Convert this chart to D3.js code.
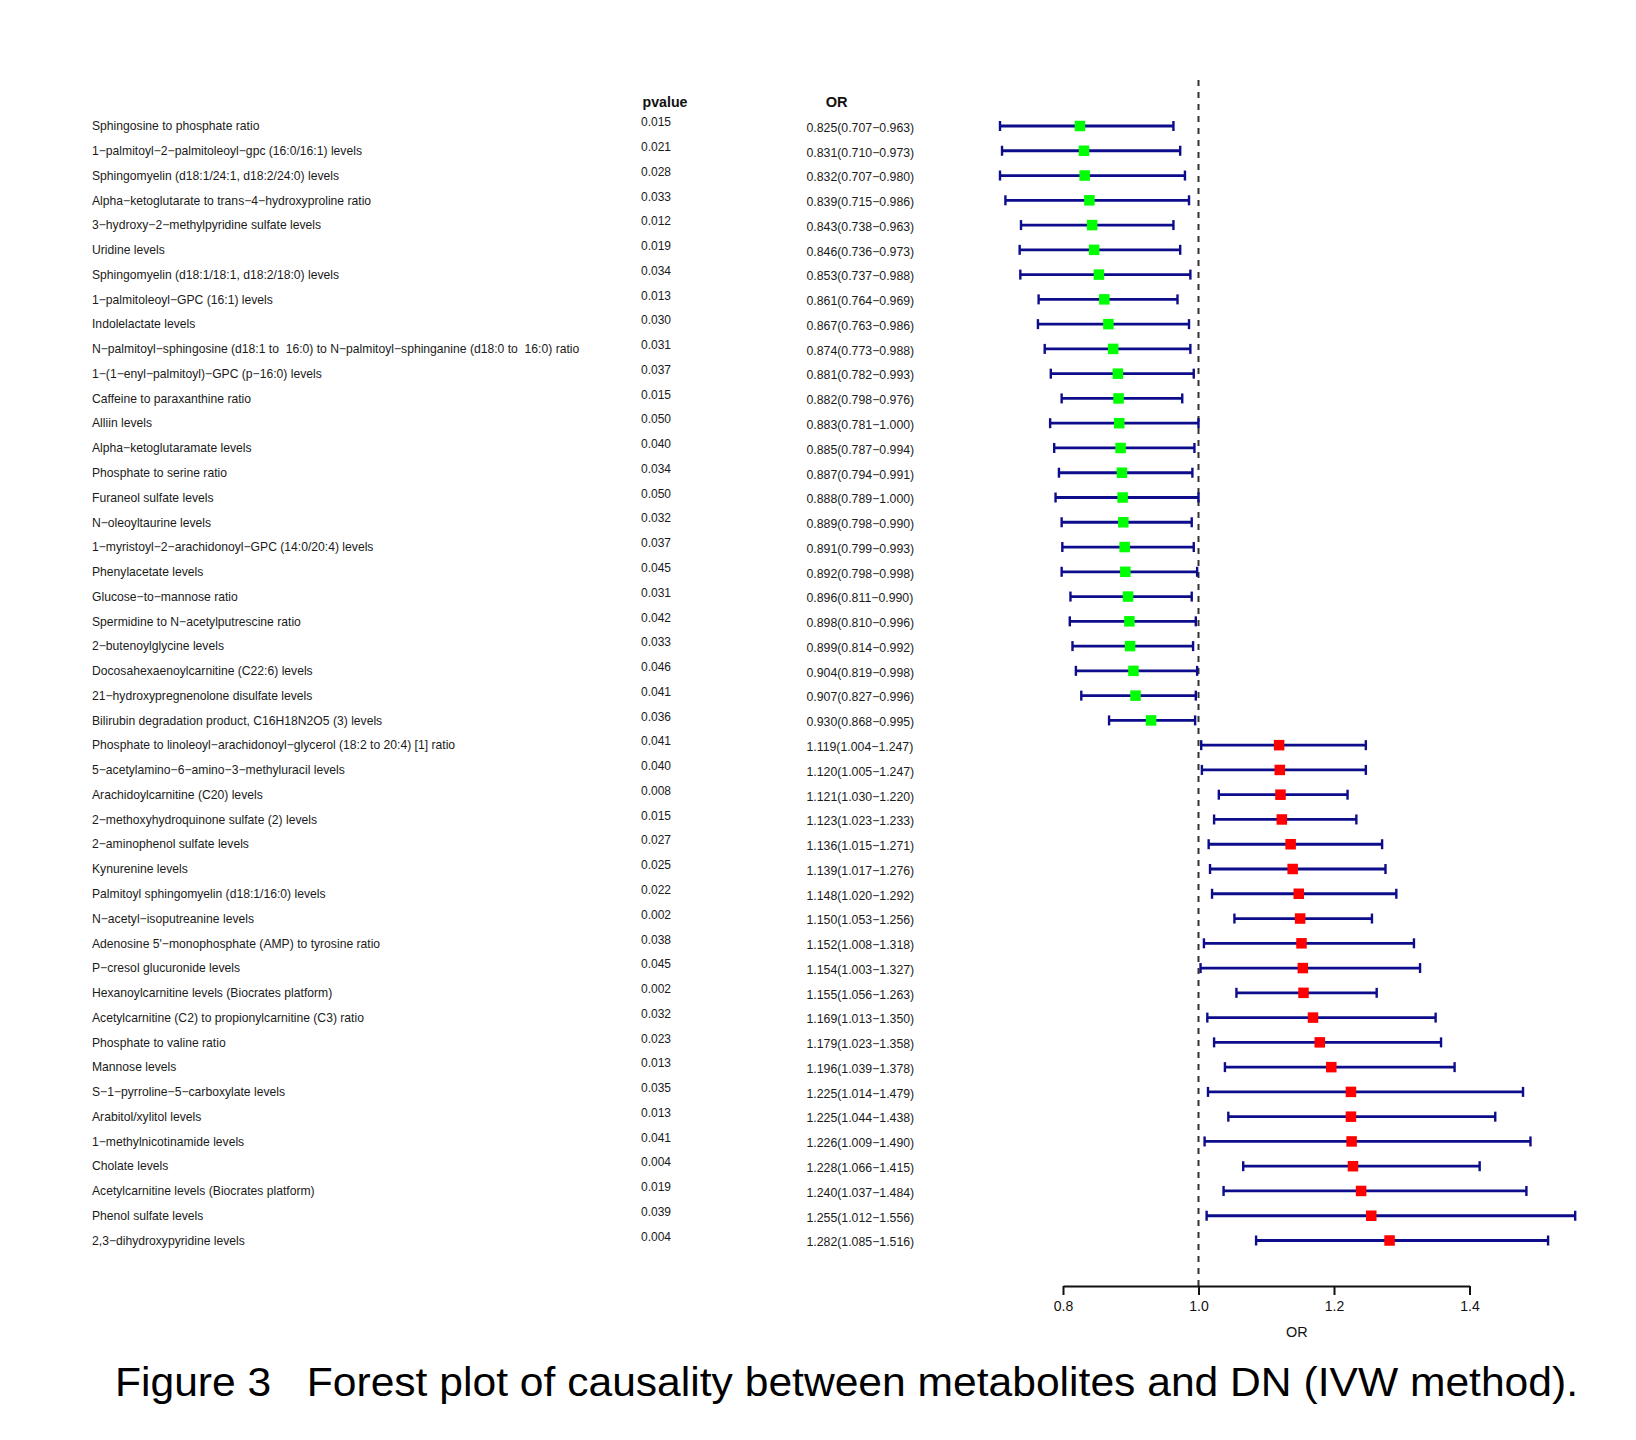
<!DOCTYPE html>
<html>
<head>
<meta charset="utf-8">
<script src="https://cdn.jsdelivr.net/npm/d3@7"></script>
<style>
  html, body { margin: 0; padding: 0; background: #fff; }
  svg { display: block; }
  text { font-family: "Liberation Sans", Arial, sans-serif; }
</style>
</head>
<body>
<div id="chart"></div>
<script>
const labels = [
  "Sphingosine to phosphate ratio",
  "1−palmitoyl−2−palmitoleoyl−gpc (16:0/16:1) levels",
  "Sphingomyelin (d18:1/24:1, d18:2/24:0) levels",
  "Alpha−ketoglutarate to trans−4−hydroxyproline ratio",
  "3−hydroxy−2−methylpyridine sulfate levels",
  "Uridine levels",
  "Sphingomyelin (d18:1/18:1, d18:2/18:0) levels",
  "1−palmitoleoyl−GPC (16:1) levels",
  "Indolelactate levels",
  "N−palmitoyl−sphingosine (d18:1 to  16:0) to N−palmitoyl−sphinganine (d18:0 to  16:0) ratio",
  "1−(1−enyl−palmitoyl)−GPC (p−16:0) levels",
  "Caffeine to paraxanthine ratio",
  "Alliin levels",
  "Alpha−ketoglutaramate levels",
  "Phosphate to serine ratio",
  "Furaneol sulfate levels",
  "N−oleoyltaurine levels",
  "1−myristoyl−2−arachidonoyl−GPC (14:0/20:4) levels",
  "Phenylacetate levels",
  "Glucose−to−mannose ratio",
  "Spermidine to N−acetylputrescine ratio",
  "2−butenoylglycine levels",
  "Docosahexaenoylcarnitine (C22:6) levels",
  "21−hydroxypregnenolone disulfate levels",
  "Bilirubin degradation product, C16H18N2O5 (3) levels",
  "Phosphate to linoleoyl−arachidonoyl−glycerol (18:2 to 20:4) [1] ratio",
  "5−acetylamino−6−amino−3−methyluracil levels",
  "Arachidoylcarnitine (C20) levels",
  "2−methoxyhydroquinone sulfate (2) levels",
  "2−aminophenol sulfate levels",
  "Kynurenine levels",
  "Palmitoyl sphingomyelin (d18:1/16:0) levels",
  "N−acetyl−isoputreanine levels",
  "Adenosine 5'−monophosphate (AMP) to tyrosine ratio",
  "P−cresol glucuronide levels",
  "Hexanoylcarnitine levels (Biocrates platform)",
  "Acetylcarnitine (C2) to propionylcarnitine (C3) ratio",
  "Phosphate to valine ratio",
  "Mannose levels",
  "S−1−pyrroline−5−carboxylate levels",
  "Arabitol/xylitol levels",
  "1−methylnicotinamide levels",
  "Cholate levels",
  "Acetylcarnitine levels (Biocrates platform)",
  "Phenol sulfate levels",
  "2,3−dihydroxypyridine levels"
];

const pvalues = [
  0.015, 0.021, 0.028, 0.033, 0.012, 0.019, 0.034, 0.013, 0.030, 0.031,
  0.037, 0.015, 0.050, 0.040, 0.034, 0.050, 0.032, 0.037, 0.045, 0.031,
  0.042, 0.033, 0.046, 0.041, 0.036, 0.041, 0.040, 0.008, 0.015, 0.027,
  0.025, 0.022, 0.002, 0.038, 0.045, 0.002, 0.032, 0.023, 0.013, 0.035,
  0.013, 0.041, 0.004, 0.019, 0.039, 0.004
];

const orValues = [
  0.825, 0.831, 0.832, 0.839, 0.843, 0.846, 0.853, 0.861, 0.867, 0.874,
  0.881, 0.882, 0.883, 0.885, 0.887, 0.888, 0.889, 0.891, 0.892, 0.896,
  0.898, 0.899, 0.904, 0.907, 0.930, 1.119, 1.120, 1.121, 1.123, 1.136,
  1.139, 1.148, 1.150, 1.152, 1.154, 1.155, 1.169, 1.179, 1.196, 1.225,
  1.225, 1.226, 1.228, 1.240, 1.255, 1.282
];

const lowerCI = [
  0.707, 0.710, 0.707, 0.715, 0.738, 0.736, 0.737, 0.764, 0.763, 0.773,
  0.782, 0.798, 0.781, 0.787, 0.794, 0.789, 0.798, 0.799, 0.798, 0.811,
  0.810, 0.814, 0.819, 0.827, 0.868, 1.004, 1.005, 1.030, 1.023, 1.015,
  1.017, 1.020, 1.053, 1.008, 1.003, 1.056, 1.013, 1.023, 1.039, 1.014,
  1.044, 1.009, 1.066, 1.037, 1.012, 1.085
];

const upperCI = [
  0.963, 0.973, 0.980, 0.986, 0.963, 0.973, 0.988, 0.969, 0.986, 0.988,
  0.993, 0.976, 1.000, 0.994, 0.991, 1.000, 0.990, 0.993, 0.998, 0.990,
  0.996, 0.992, 0.998, 0.996, 0.995, 1.247, 1.247, 1.220, 1.233, 1.271,
  1.276, 1.292, 1.256, 1.318, 1.327, 1.263, 1.350, 1.358, 1.378, 1.479,
  1.438, 1.490, 1.415, 1.484, 1.556, 1.516
];

const xTicks = [0.8, 1.0, 1.2, 1.4];
const headers = ["pvalue", "OR"];
const xAxisTitle = "OR";
const caption = "Figure 3   Forest plot of causality between metabolites and DN (IVW method).";

const W = 1636, H = 1440;
const rows = labels.map((d, i) => ({
  label: d, p: pvalues[i], or: orValues[i], lo: lowerCI[i], hi: upperCI[i]
}));

const svg = d3.select("#chart").append("svg")
  .attr("width", W).attr("height", H);

const x = d3.scaleLinear().domain([0.8, 1.4]).range([1063, 1469.5]);
const y = d3.scalePoint().domain(d3.range(rows.length)).range([126, 1240.5]);

const textColor = "#1a1a1a";
const fmt3 = d3.format(".3f");

// Headers
svg.append("text").attr("x", 642.5).attr("y", 106.5)
  .attr("font-size", 14.2).attr("font-weight", "bold").attr("fill", "#111")
  .text(headers[0]);
svg.append("text").attr("x", 836.7).attr("y", 106.5)
  .attr("text-anchor", "middle")
  .attr("font-size", 14.6).attr("font-weight", "bold").attr("fill", "#111")
  .text(headers[1]);

// Row labels
svg.append("g").selectAll("text").data(rows).join("text")
  .attr("x", 92).attr("y", (d, i) => y(i)).attr("dy", "0.35em")
  .attr("font-size", 12.15).attr("fill", textColor)
  .attr("style", "white-space: pre")
  .text(d => d.label);

// p values
svg.append("g").selectAll("text").data(rows).join("text")
  .attr("x", 641).attr("y", (d, i) => y(i) - 4).attr("dy", "0.35em")
  .attr("font-size", 12).attr("fill", textColor)
  .text(d => fmt3(d.p));

// OR text
svg.append("g").selectAll("text").data(rows).join("text")
  .attr("x", 806.5).attr("y", (d, i) => y(i) + 1.5).attr("dy", "0.35em")
  .attr("font-size", 12.3).attr("fill", textColor)
  .text(d => `${fmt3(d.or)}(${fmt3(d.lo)}−${fmt3(d.hi)})`);

// Reference dashed line
const axisY = 1286;
svg.append("line")
  .attr("x1", x(1)).attr("x2", x(1))
  .attr("y1", 80).attr("y2", axisY)
  .attr("stroke", "#333").attr("stroke-width", 2)
  .attr("stroke-dasharray", "6,6");

// CI lines
const ciColor = "#0d0d8c";
const ci = svg.append("g");
ci.selectAll("line.ci").data(rows).join("line").attr("class", "ci")
  .attr("x1", d => x(d.lo)).attr("x2", d => x(d.hi))
  .attr("y1", (d, i) => y(i)).attr("y2", (d, i) => y(i))
  .attr("stroke", ciColor).attr("stroke-width", 2.8);
ci.selectAll("line.capl").data(rows).join("line").attr("class", "capl")
  .attr("x1", d => x(d.lo)).attr("x2", d => x(d.lo))
  .attr("y1", (d, i) => y(i) - 5).attr("y2", (d, i) => y(i) + 5)
  .attr("stroke", ciColor).attr("stroke-width", 2.4);
ci.selectAll("line.capr").data(rows).join("line").attr("class", "capr")
  .attr("x1", d => x(d.hi)).attr("x2", d => x(d.hi))
  .attr("y1", (d, i) => y(i) - 5).attr("y2", (d, i) => y(i) + 5)
  .attr("stroke", ciColor).attr("stroke-width", 2.4);

// Point estimates
const sq = 10.5;
svg.append("g").selectAll("rect").data(rows).join("rect")
  .attr("x", d => x(d.or) - sq / 2)
  .attr("y", (d, i) => y(i) - sq / 2)
  .attr("width", sq).attr("height", sq)
  .attr("fill", d => d.or < 1 ? "#00ff00" : "#ff0000");

// X axis
const axis = svg.append("g").attr("transform", `translate(0,${axisY})`)
  .call(d3.axisBottom(x).tickValues(xTicks).tickFormat(d3.format(".1f"))
    .tickSize(9).tickSizeOuter(0).tickPadding(6));
axis.select(".domain").attr("stroke", "#111").attr("stroke-width", 2);
axis.selectAll(".tick line").attr("stroke", "#111").attr("stroke-width", 2);
axis.selectAll(".tick text")
  .attr("font-family", "'Liberation Sans', Arial, sans-serif")
  .attr("font-size", 14).attr("fill", "#111");

svg.append("text")
  .attr("x", x(1.145)).attr("y", 1337)
  .attr("text-anchor", "middle")
  .attr("font-size", 14.4).attr("fill", "#111")
  .text(xAxisTitle);

// Caption
svg.append("text")
  .attr("x", 115).attr("y", 1396)
  .attr("font-size", 40).attr("fill", "#000")
  .attr("textLength", 1463).attr("lengthAdjust", "spacingAndGlyphs")
  .attr("style", "white-space: pre")
  .text(caption);
</script>
</body>
</html>
